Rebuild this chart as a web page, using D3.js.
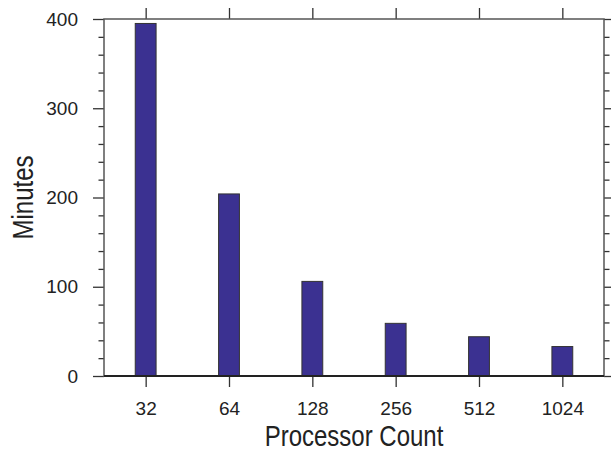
<!DOCTYPE html>
<html>
<head>
<meta charset="utf-8">
<script src="https://cdn.jsdelivr.net/npm/d3@7"></script>
<style>
  body { margin: 0; background: #fff; }
  text { font-family: "Liberation Sans", Arial, sans-serif; fill: #222; }
</style>
</head>
<body>
<div id="chart"></div>
<script>
// data
const procCounts = ["32", "64", "128", "256", "512", "1024"];
const minutes = [395, 204, 106, 59, 44, 33];
const yTicks = [0, 100, 200, 300, 400];

const W = 611, H = 453;
const margin = {top: 19, right: 7, bottom: 77, left: 104};
const width = W - margin.left - margin.right;
const height = H - margin.top - margin.bottom;

const svg = d3.select("#chart").append("svg")
    .attr("width", W)
    .attr("height", H);

const g = svg.append("g")
    .attr("transform", "translate(" + margin.left + "," + margin.top + ")");

// bars sit on integer positions 1..6, frame spans 0.5..6.5
let x = d3.scaleLinear().domain([0.5, 6.5]).range([0, width]);
let y = d3.scaleLinear().domain([0, 400]).range([height, 0]);
const barW = x(1.25) - x(1);

g.selectAll(".bar").data(minutes).enter().append("rect")
    .attr("class", "bar")
    .attr("x", (d, i) => x(i + 1) - barW / 2)
    .attr("y", d => y(d))
    .attr("width", barW)
    .attr("height", d => y(0) - y(d))
    .attr("fill", "#3b3191")
    .attr("stroke", "#333")
    .attr("stroke-width", 1);

// axes: labelled major ticks outward, minor ticks every 20
const xPos = procCounts.map((d, i) => i + 1);
const axisStyle = sel => {
    sel.select(".domain").remove();
    sel.selectAll(".tick line").attr("stroke", "#333").attr("stroke-width", 1.3);
    sel.selectAll("text").style("font-size", "19px").attr("fill", "#222");
};

g.append("g")
    .attr("transform", "translate(0," + height + ")")
    .call(d3.axisBottom(x).tickValues(xPos).tickFormat((d, i) => procCounts[i]).tickSize(11))
    .call(axisStyle)
    .selectAll("text").attr("y", 39).attr("dy", 0);
g.append("g")
    .call(d3.axisTop(x).tickValues(xPos).tickFormat("").tickSize(11))
    .call(axisStyle);

const minor = d3.range(0, 401, 20).filter(v => v % 100 !== 0);
g.append("g")
    .call(d3.axisLeft(y).tickValues(yTicks).tickSize(11).tickPadding(15))
    .call(axisStyle);
g.append("g")
    .call(d3.axisLeft(y).tickValues(minor).tickFormat("").tickSize(5.5))
    .call(axisStyle);
g.append("g")
    .attr("transform", "translate(" + width + ",0)")
    .call(d3.axisRight(y).tickValues(yTicks).tickFormat("").tickSize(7))
    .call(axisStyle);
g.append("g")
    .attr("transform", "translate(" + width + ",0)")
    .call(d3.axisRight(y).tickValues(minor).tickFormat("").tickSize(5.5))
    .call(axisStyle);

// frame
g.append("rect")
    .attr("width", width)
    .attr("height", height)
    .attr("fill", "none")
    .attr("stroke", "#555")
    .attr("stroke-width", 1.5);
g.append("line")
    .attr("x1", 0).attr("x2", width)
    .attr("y1", height).attr("y2", height)
    .attr("stroke", "#222")
    .attr("stroke-width", 2);

// titles (the reference font is taller than it is wide, hence the stretch)
svg.append("text")
    .attr("transform", "translate(" + (margin.left + width / 2) + ",446) scale(1,1.2)")
    .attr("text-anchor", "middle")
    .style("font-size", "24px")
    .text("Processor Count");

svg.append("text")
    .attr("transform", "translate(32.5," + (margin.top + height / 2) + ") rotate(-90) scale(1,1.2)")
    .attr("text-anchor", "middle")
    .style("font-size", "24px")
    .text("Minutes");
</script>
</body>
</html>
